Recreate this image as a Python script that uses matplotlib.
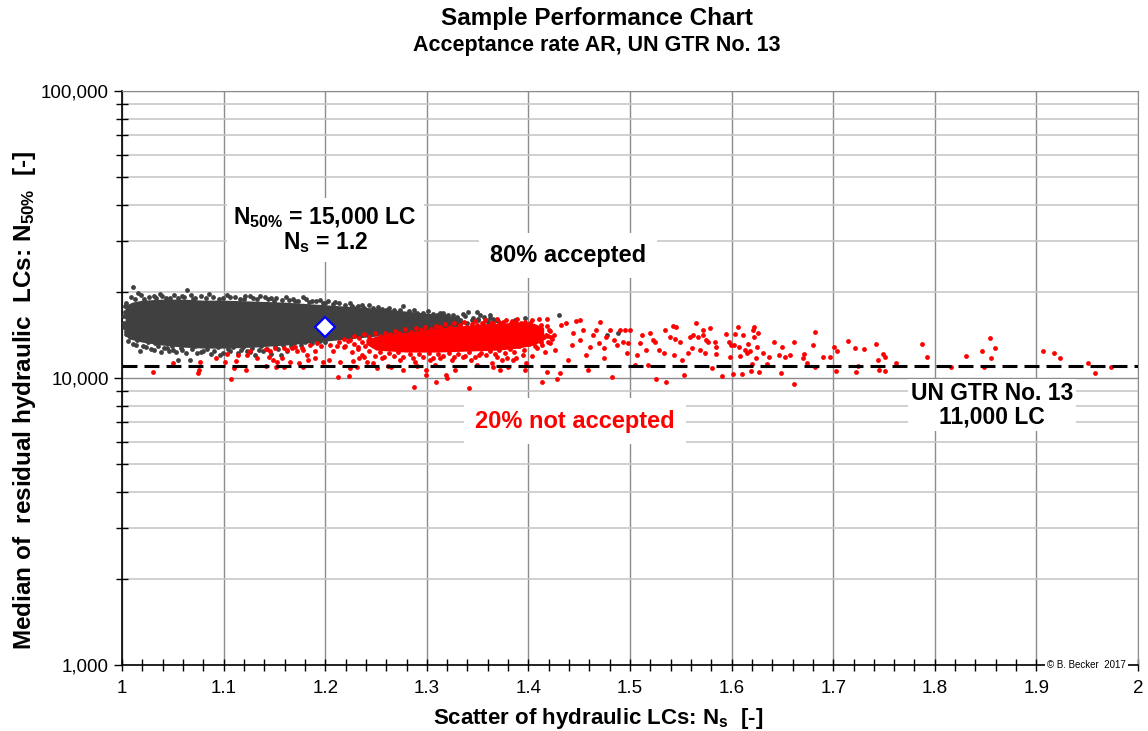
import numpy as np
import matplotlib
matplotlib.use('Agg')
import matplotlib.pyplot as plt
from matplotlib.ticker import MultipleLocator, LogLocator, FixedLocator, FuncFormatter, NullFormatter

plt.rcParams['font.family'] = ['Liberation Sans', 'DejaVu Sans']
plt.rcParams['mathtext.fontset'] = 'custom'
plt.rcParams['mathtext.rm'] = 'Liberation Sans:bold'
plt.rcParams['mathtext.it'] = 'Liberation Sans:bold'
plt.rcParams['mathtext.bf'] = 'Liberation Sans:bold'

# all N values in thousand load cycles (kLC)
median_ns = 1.2
median_k = 15.0
limit_k = 11.0

# dense part of the grey cloud (lower / upper envelope)
grey_core_ns = [1.003, 1.01, 1.02, 1.04, 1.06, 1.08, 1.10, 1.13, 1.16, 1.19, 1.22, 1.25, 1.28, 1.30, 1.32, 1.335]
grey_core_hi = [17.9, 18.38, 18.68, 18.83, 18.83, 18.68, 18.68, 18.53, 18.38, 18.09, 17.80, 17.52, 17.10, 16.83, 16.56, 16.16]
grey_core_lo = [14.0, 13.6, 13.33, 13.02, 12.81, 12.71, 12.71, 12.81, 13.02, 13.33, 13.66, 13.99, 14.33, 14.56, 14.80, 15.28]

# scattered grey points around the dense part
grey_ns = [1.011, 1.064, 1.003, 1.016, 1.031, 1.037, 1.047, 1.059, 1.086, 1.106, 1.126, 1.136, 1.147, 1.164, 1.178, 1.187,
           1.005, 1.008, 1.014, 1.018, 1.024, 1.031, 1.032, 1.041, 1.046, 1.050, 1.055, 1.059, 1.067, 1.074, 1.080, 1.088,
           1.096, 1.106, 1.114, 1.123, 1.131, 1.139, 1.147, 1.156, 1.162,
           1.226, 1.236, 1.247, 1.277, 1.270, 1.293, 1.303, 1.316, 1.321, 1.336, 1.341, 1.349, 1.356, 1.362, 1.331, 1.344,
           1.310, 1.397, 1.430, 1.412, 1.477, 1.488, 1.387,
           1.195, 1.210, 1.07, 1.095, 1.12, 1.15, 1.17, 1.20, 1.23, 1.26, 1.29, 1.31, 1.33, 1.35, 1.365, 1.34, 1.355, 1.36,
           1.35, 1.37]
grey_k = [20.7, 20.2, 17.8, 19.7, 19.3, 19.6, 19.0, 19.3, 19.6, 19.2, 19.3, 19.3, 19.0, 18.7, 19.2, 18.6,
          14.7, 13.9, 13.0, 12.4, 12.8, 12.5, 13.2, 12.7, 12.4, 12.5, 11.6, 12.5, 11.55, 12.2, 12.4, 12.1,
          12.0, 12.4, 12.2, 12.4, 12.0, 12.4, 12.1, 12.0, 12.4,
          17.8, 17.95, 17.6, 17.8, 16.7, 16.56, 16.4, 16.9, 16.56, 16.7, 17.0, 17.0, 16.3, 16.56, 16.1, 15.9,
          16.0, 16.2, 16.56, 14.7, 14.1, 14.4, 15.9,
          18.7, 18.4, 18.9, 18.9, 18.8, 18.6, 18.5, 18.2, 17.5, 17.2, 16.9, 16.6, 16.2, 15.9, 16.0, 15.6, 15.4, 15.7,
          16.1, 15.8]

# grey points along the rim of the dense part
grey_rim = [(1.004, 18.2), (1.009, 19.1), (1.013, 18.9), (1.019, 19.4), (1.022, 18.9), (1.027, 19.2), (1.033, 19.0),
            (1.039, 19.3), (1.043, 18.95), (1.051, 19.4), (1.055, 19.0), (1.061, 19.2), (1.068, 19.5), (1.072, 19.0),
            (1.078, 19.3), (1.083, 18.95), (1.090, 19.2), (1.099, 19.0), (1.103, 19.5), (1.111, 19.1), (1.116, 18.9),
            (1.121, 19.3), (1.129, 19.0), (1.133, 18.8), (1.141, 19.2), (1.144, 18.85), (1.152, 19.0), (1.157, 18.7),
            (1.161, 19.1), (1.168, 18.8), (1.173, 18.5), (1.181, 18.9), (1.184, 18.4), (1.191, 18.5), (1.198, 18.3),
            (1.203, 18.6), (1.208, 18.1), (1.214, 18.2), (1.219, 17.9), (1.224, 18.2), (1.232, 17.8), (1.238, 17.6),
            (1.243, 17.9), (1.252, 17.7), (1.256, 17.4), (1.263, 17.5), (1.268, 17.2), (1.274, 17.3), (1.282, 17.1),
            (1.287, 17.3), (1.296, 16.9), (1.301, 17.1), (1.306, 16.7), (1.313, 16.8), (1.318, 16.4), (1.326, 16.6),
            (1.330, 16.3), (1.338, 16.4), (1.345, 16.2), (1.352, 16.6), (1.358, 15.9), (1.362, 16.2), (1.368, 15.9),
            (1.002, 15.6), (1.004, 14.2), (1.006, 13.5), (1.011, 13.1), (1.015, 13.6), (1.021, 12.9), (1.026, 13.3),
            (1.029, 12.6), (1.035, 12.9), (1.038, 12.3), (1.044, 12.7), (1.049, 12.9), (1.053, 12.3), (1.058, 12.7),
            (1.063, 12.2), (1.069, 12.6), (1.072, 12.9), (1.078, 12.3), (1.084, 12.6), (1.091, 12.4), (1.094, 12.8),
            (1.099, 12.2), (1.104, 12.6), (1.109, 12.8), (1.117, 12.5), (1.119, 12.8), (1.126, 12.3), (1.128, 12.7),
            (1.135, 12.5), (1.137, 12.9), (1.143, 12.6), (1.151, 12.9), (1.154, 12.6), (1.158, 13.0), (1.166, 12.9),
            (1.169, 13.2), (1.176, 13.0), (1.180, 13.3), (1.187, 13.2), (1.195, 13.5), (1.200, 13.3),
            (1.002, 16.5), (1.003, 17.0), (1.002, 15.0), (1.005, 17.7), (1.004, 14.6)]

# dense part of the red cloud
red_core_ns = [1.24, 1.25, 1.28, 1.31, 1.34, 1.37, 1.39, 1.405, 1.415]
red_core_hi = [13.66, 13.99, 14.45, 14.92, 15.28, 15.53, 15.65, 15.53, 15.04]
red_core_lo = [13.12, 12.51, 12.31, 12.31, 12.41, 12.51, 12.71, 13.02, 13.55]

red_rim = [(1.218, 13.7), (1.222, 13.5), (1.228, 14.0), (1.233, 13.8), (1.238, 14.2), (1.243, 13.9), (1.249, 14.3),
           (1.254, 14.0), (1.259, 14.4), (1.264, 14.2), (1.269, 14.6), (1.273, 14.3), (1.279, 14.8), (1.284, 14.5),
           (1.289, 14.9), (1.294, 14.7), (1.298, 15.1), (1.304, 14.8), (1.309, 15.2), (1.313, 15.0), (1.318, 15.4),
           (1.323, 15.1), (1.327, 15.6), (1.333, 15.3), (1.337, 15.7), (1.344, 15.4), (1.347, 15.8), (1.354, 15.5),
           (1.357, 15.9), (1.363, 15.6), (1.369, 16.0), (1.372, 15.5), (1.378, 15.9), (1.383, 15.5), (1.389, 16.0),
           (1.393, 15.6), (1.399, 15.2), (1.404, 15.9), (1.407, 14.6),
           (1.218, 12.8), (1.226, 12.3), (1.232, 12.6), (1.236, 12.0), (1.243, 12.4), (1.249, 11.9), (1.254, 12.3),
           (1.258, 11.8), (1.263, 12.2), (1.268, 11.9), (1.272, 12.3), (1.277, 11.8), (1.283, 12.1), (1.286, 11.7),
           (1.292, 12.1), (1.296, 11.8), (1.302, 12.2), (1.306, 11.75), (1.311, 12.1), (1.316, 11.9), (1.322, 12.2),
           (1.327, 11.8), (1.331, 12.15), (1.338, 11.9), (1.342, 12.3), (1.347, 11.85), (1.353, 12.25), (1.358, 12.0),
           (1.362, 12.4), (1.367, 12.1), (1.371, 12.5), (1.377, 12.2), (1.382, 12.6), (1.386, 12.3), (1.391, 12.9),
           (1.396, 12.5), (1.401, 13.1), (1.408, 12.7), (1.412, 13.4),
           (1.214, 13.3), (1.219, 12.9), (1.224, 13.6), (1.228, 13.1), (1.232, 12.8), (1.236, 13.4), (1.239, 12.9),
           (1.243, 13.6), (1.418, 15.2), (1.421, 14.6), (1.417, 14.1), (1.422, 13.9), (1.419, 13.4)]

red_near = [(1.030, 10.5), (1.050, 11.3), (1.075, 10.4), (1.076, 10.7), (1.077, 11.4), (1.092, 11.7), (1.101, 11.4),
            (1.103, 12.1), (1.107, 9.9), (1.110, 10.8), (1.112, 11.5), (1.114, 12.0), (1.122, 10.7), (1.123, 12.0),
            (1.126, 12.4), (1.133, 11.7), (1.142, 12.6), (1.142, 11.0), (1.145, 11.85), (1.146, 12.4), (1.149, 11.55),
            (1.151, 12.7), (1.152, 10.9), (1.153, 11.4), (1.157, 11.7), (1.159, 10.9), (1.159, 12.7), (1.162, 12.5),
            (1.165, 11.4), (1.167, 12.7), (1.170, 12.8), (1.172, 12.4), (1.174, 11.25), (1.178, 10.95), (1.178, 12.5),
            (1.182, 12.0), (1.183, 11.55), (1.185, 13.0), (1.190, 11.7), (1.190, 12.4), (1.192, 13.2), (1.177, 12.7)]

red_mid = [(1.198, 11.4), (1.204, 11.55), (1.208, 12.4), (1.213, 10.05), (1.215, 11.4), (1.223, 10.2), (1.224, 10.8),
           (1.227, 11.5), (1.231, 10.9), (1.233, 11.7), (1.238, 11.85), (1.241, 11.4), (1.247, 11.25), (1.251, 10.8),
           (1.256, 11.7), (1.262, 11.0), (1.265, 10.95), (1.274, 11.55), (1.277, 10.7), (1.287, 9.3), (1.288, 11.4),
           (1.290, 11.0), (1.299, 10.65), (1.299, 10.25), (1.303, 11.55), (1.308, 11.1), (1.309, 9.7), (1.313, 11.7),
           (1.319, 10.25), (1.320, 10.0), (1.325, 11.55), (1.328, 10.65), (1.336, 11.85), (1.342, 9.25), (1.343, 11.55),
           (1.349, 11.1), (1.351, 12.0), (1.364, 11.3), (1.365, 10.95), (1.369, 11.85), (1.374, 11.55), (1.379, 11.7),
           (1.385, 11.55), (1.365, 15.5), (1.375, 15.7), (1.384, 15.8), (1.339, 15.0), (1.349, 15.3), (1.359, 15.15),
           (1.388, 15.5), (1.395, 15.3), (1.397, 15.7), (1.380, 10.95), (1.372, 10.65), (1.397, 10.65), (1.398, 11.25),
           (1.395, 12.0), (1.388, 11.7), (1.196, 12.9), (1.205, 13.0), (1.212, 12.9)]

red_far = [(1.402, 15.5), (1.405, 14.7), (1.410, 16.0), (1.412, 15.3), (1.415, 13.9), (1.418, 16.0), (1.420, 14.7),
           (1.421, 13.2), (1.425, 14.1), (1.426, 12.5), (1.413, 9.7), (1.418, 10.5), (1.428, 9.9), (1.431, 10.4),
           (1.432, 15.3), (1.437, 15.5), (1.439, 11.55), (1.443, 13.0), (1.444, 14.3), (1.447, 15.8), (1.451, 15.9),
           (1.451, 13.55), (1.454, 14.7), (1.457, 12.0), (1.459, 10.65), (1.461, 12.85), (1.464, 14.1), (1.467, 14.75),
           (1.469, 13.2), (1.470, 15.7), (1.474, 12.7), (1.474, 11.7), (1.476, 13.9), (1.480, 14.7), (1.482, 10.1),
           (1.484, 13.55), (1.487, 13.0), (1.490, 14.7), (1.493, 13.3), (1.495, 14.7), (1.497, 12.25), (1.498, 13.2),
           (1.500, 14.7), (1.505, 11.1), (1.507, 12.0), (1.510, 13.2), (1.512, 14.1), (1.516, 12.5), (1.518, 11.1),
           (1.520, 14.3), (1.523, 13.55), (1.525, 13.4), (1.526, 9.9), (1.529, 12.5), (1.533, 12.2), (1.534, 14.75),
           (1.535, 9.7), (1.539, 13.9), (1.542, 15.15), (1.543, 12.0), (1.544, 13.7), (1.545, 15.1), (1.549, 13.4),
           (1.551, 11.55), (1.553, 10.25), (1.557, 12.2), (1.559, 13.9), (1.561, 12.7), (1.562, 14.1), (1.565, 15.5),
           (1.567, 13.9),
           (1.402, 13.5), (1.406, 12.9), (1.409, 14.2), (1.413, 13.0), (1.416, 12.3), (1.419, 14.0), (1.423, 13.7),
           (1.404, 11.9)]

red_tail = [(1.572, 14.7), (1.572, 14.1), (1.569, 12.5), (1.574, 12.25), (1.579, 14.9), (1.575, 13.6), (1.577, 13.3),
            (1.584, 13.4), (1.585, 12.8), (1.585, 12.1), (1.581, 10.8), (1.591, 10.2), (1.594, 14.2), (1.597, 13.4),
            (1.598, 11.85), (1.599, 13.0), (1.601, 10.3), (1.603, 14.2), (1.602, 13.0), (1.606, 15.1), (1.607, 12.8),
            (1.608, 11.95), (1.610, 10.3), (1.611, 14.1), (1.613, 12.5), (1.615, 12.25), (1.616, 13.1), (1.618, 12.45),
            (1.619, 10.6), (1.620, 11.2), (1.621, 14.75), (1.622, 15.0), (1.622, 13.9), (1.624, 11.7), (1.625, 12.85),
            (1.626, 14.35), (1.627, 10.5), (1.631, 12.25), (1.635, 11.2), (1.637, 11.85), (1.642, 13.3), (1.647, 12.0),
            (1.649, 10.4), (1.650, 12.85), (1.653, 11.8), (1.657, 12.0), (1.661, 13.4), (1.661, 9.5), (1.670, 11.7),
            (1.671, 12.1), (1.674, 11.3), (1.680, 13.0), (1.682, 14.5), (1.682, 10.9), (1.690, 11.85), (1.697, 11.85),
            (1.701, 12.85), (1.704, 12.45), (1.703, 10.6), (1.715, 13.45), (1.721, 12.7), (1.724, 11.0), (1.722, 10.5),
            (1.730, 12.6), (1.742, 13.1), (1.744, 11.6), (1.745, 10.65), (1.749, 12.1), (1.751, 11.85), (1.751, 10.6),
            (1.762, 11.25), (1.787, 13.1), (1.792, 11.85), (1.816, 10.95), (1.831, 11.95), (1.846, 12.4),
            (1.848, 10.95), (1.854, 13.8), (1.855, 11.7), (1.859, 12.75), (1.906, 12.4), (1.917, 12.25), (1.923, 11.7),
            (1.951, 11.3), (1.958, 10.4), (1.973, 10.95)]

grey = '#404040'
red = '#ff0000'

fig = plt.figure(figsize=(11.48, 7.31), dpi=100)
ax = fig.add_axes([0.1063, 0.0903, 0.885, 0.7852])
ax.set_yscale('log')
ax.set_xlim(1, 2)
ax.set_ylim(1000, 100000)

kilo = 1000.0
ax.fill_between(grey_core_ns, np.array(grey_core_lo) * kilo, np.array(grey_core_hi) * kilo,
                color=grey, lw=0, zorder=3)
grey_rim = np.array(grey_rim)
ax.scatter(grey_rim[:, 0], grey_rim[:, 1] * kilo, s=12, color=grey, lw=0, zorder=3)
ax.scatter(grey_ns, np.array(grey_k) * kilo, s=12, color=grey, lw=0, zorder=3)

ax.fill_between(red_core_ns, np.array(red_core_lo) * kilo, np.array(red_core_hi) * kilo,
                color=red, lw=0, zorder=4)
red_all = np.array(red_rim + red_near + red_mid + red_far + red_tail)
ax.scatter(red_all[:, 0], red_all[:, 1] * kilo, s=12, color=red, lw=0, zorder=4)

ax.axhline(limit_k * kilo, color='black', lw=2.2, ls=(0, (4.9, 2.3)), zorder=5)
ax.plot([median_ns], [median_k * kilo], marker='D', ms=10, mfc='white', mec='#0000ff', mew=1.6, zorder=6)

# axes, ticks, grid
ax.xaxis.set_major_locator(MultipleLocator(0.1))
ax.xaxis.set_minor_locator(MultipleLocator(0.02))
ax.xaxis.set_major_formatter(FuncFormatter(lambda v, p: '%g' % round(v, 1)))
ax.yaxis.set_major_locator(FixedLocator([1000, 10000, 100000]))
ax.yaxis.set_major_formatter(FuncFormatter(lambda v, p: '{:,.0f}'.format(v)))
ax.yaxis.set_minor_locator(LogLocator(base=10, subs=range(2, 10)))
ax.yaxis.set_minor_formatter(NullFormatter())
ax.tick_params(axis='x', which='both', direction='inout', length=8, width=1, labelsize=13.5, pad=7)
ax.tick_params(axis='y', which='major', direction='out', length=6, width=1, labelsize=13.5)
ax.tick_params(axis='y', which='minor', direction='inout', length=8, width=1)
ax.set_axisbelow(True)
ax.grid(which='major', axis='x', color='#8c8c8c', lw=1)
ax.grid(which='major', axis='y', color='#8c8c8c', lw=1)
ax.grid(which='minor', axis='y', color='#c8c8c8', lw=1.2)
for s in ['top', 'right']:
    ax.spines[s].set_color('#8c8c8c')
for s in ['left', 'bottom']:
    ax.spines[s].set_linewidth(1.2)

ax.set_xlabel('Scatter of hydraulic LCs: N$_\\mathrm{s}$  [-]', fontsize=16, fontweight='bold')
ax.xaxis.set_label_coords(0.4685, -0.072)
ax.set_ylabel('Median of  residual hydraulic  LCs: N$_\\mathrm{50\\%}$  [-]', fontsize=17.5, fontweight='bold')
ax.yaxis.set_label_coords(-0.083, 0.46)

fig.text(597 / 1148, 1 - 18 / 731, 'Sample Performance Chart', ha='center', va='center',
         fontsize=17.5, fontweight='bold')
fig.text(597 / 1148, 1 - 46 / 731, 'Acceptance rate AR, UN GTR No. 13', ha='center', va='center',
         fontsize=15.5, fontweight='bold')

ax.text(1.2, 32800, 'N$_\\mathrm{50\\%}$ = 15,000 LC\nN$_\\mathrm{s}$ = 1.2', ha='center', va='center',
        fontsize=16.5, fontweight='bold', linespacing=1.0,
        bbox=dict(facecolor='white', edgecolor='none', pad=5), zorder=7)
ax.text(1.439, 26800, '80% accepted', ha='center', va='center', fontsize=17, fontweight='bold',
        bbox=dict(facecolor='white', edgecolor='none', pad=8), zorder=7)
ax.text(1.446, 7080, '20% not accepted', ha='center', va='center', fontsize=17, fontweight='bold',
        color=red, bbox=dict(facecolor='white', edgecolor='none', pad=8), zorder=7)
ax.text(1.856, 8050, 'UN GTR No. 13\n11,000 LC', ha='center', va='center', fontsize=16.5, fontweight='bold',
        linespacing=1.0, bbox=dict(facecolor='white', edgecolor='none', pad=2), zorder=7)
ax.text(1.988, 1000, '\u00a9 B. Becker  2017', ha='right', va='center', fontsize=7,
        bbox=dict(facecolor='white', edgecolor='none', pad=1.5), zorder=8, clip_on=False)

fig.savefig('out.png', dpi=100)
